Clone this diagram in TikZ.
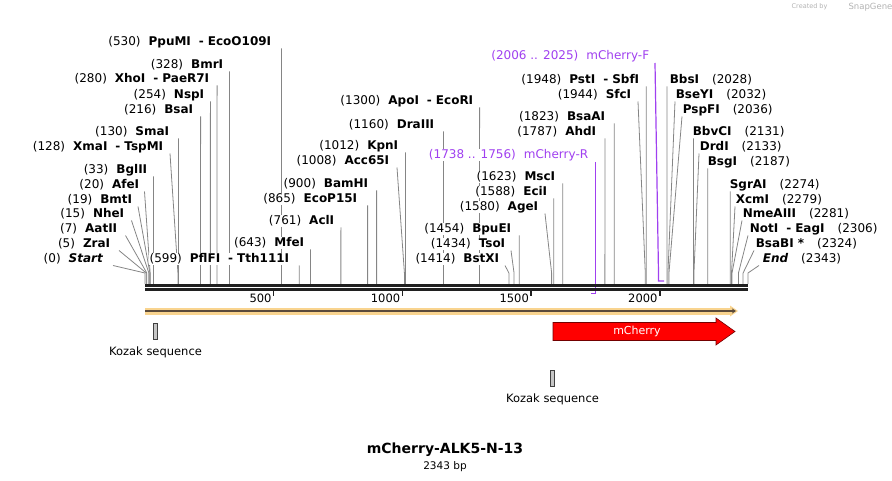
\documentclass[tikz,border=0pt]{standalone}
\usepackage{fontspec}
\setmainfont{DejaVu Sans}
\usetikzlibrary{positioning, arrows.meta, backgrounds}
\definecolor{cutGray}{HTML}{858585}
\definecolor{primerPurple}{HTML}{A040F0}
\definecolor{featOrange}{HTML}{F9D48F}
\definecolor{featLine}{HTML}{5A4A3A}
\definecolor{cherryRed}{HTML}{FF0000}
\definecolor{barBlack}{HTML}{202020}
\newcommand{\orcut}{\hspace{8pt}-\hspace{4pt}}
\newcommand{\bpx}[1]{145+#1*0.25736}

\begin{document}
\begin{tikzpicture}[
      x=1pt, y=-1pt,
      site/.style={font=\fontsize{12}{13}\selectfont, fill=white, inner sep=0.6pt},
      cutline/.style={cutGray, line width=0.8pt},
      primer/.style={primerPurple, line width=1.2pt},
      kozak/.style={draw=black!75, fill=gray!45, line width=0.6pt, minimum width=3.5pt, minimum height=16pt, inner sep=0pt},
      featlabel/.style={font=\fontsize{11.5}{13}\selectfont, inner sep=0pt},
      ticklabel/.style={font=\fontsize{11.5}{13}\selectfont, inner sep=0pt, anchor=east},
    ]
    \useasboundingbox (0,0) rectangle (892,481);
    % cut sites left of their line
    \foreach \yc/\xe/\sx/\bp/\num/\nm in {
        42/272/281.4/530/(530)/{PpuMI\orcut EcoO109I},
        65/224/229.4/328/(328)/BmrI,
        79/210/217.1/280/(280)/{XhoI\orcut PaeR7I},
        95/205/210.4/254/(254)/NspI,
        110/194/200.6/216/(216)/BsaI,
        132/170/178.5/130/(130)/SmaI,
        147/164/170/128/(128)/{XmaI\orcut TspMI},
        170/148/153.5/33/(33)/BglII,
        185/140/144.5/20/(20)/AfeI,
        200/133/138/19/(19)/BmtI,
        214/125/131.5/15/(15)/NheI,
        229/118/125.5/7/(7)/AatII,
        244/111/119/5/(5)/ZraI,
        259/104/113/0/(0)/{\textit{Start}},
        259/290/299.2/599/(599)/{PflFI\orcut Tth111I},
        243/305/310.5/643/(643)/MfeI,
        221/335/340.9/761/(761)/AclI,
        199/358/367.6/865/(865)/EcoP15I,
        184/369/376.6/900/(900)/BamHI,
        161/390/397/1008/(1008)/Acc65I,
        146/399/405.4/1012/(1012)/KpnI,
        125/435/443.5/1160/(1160)/DraIII,
        101/474/479.6/1300/(1300)/{ApoI\orcut EcoRI},
        177/556/562.7/1623/(1623)/MscI,
        192/548/553.7/1588/(1588)/EciI,
        207/539/545/1580/(1580)/AgeI,
        229/512/519.2/1454/(1454)/BpuEI,
        244/506/511/1434/(1434)/TsoI,
        259/500/505/1414/(1414)/BstXI,
        80/640/646.3/1948/(1948)/{PstI\orcut SbfI},
        95/632/638/1944/(1944)/SfcI,
        117/606/614.2/1823/(1823)/BsaAI,
        132/597/604.9/1787/(1787)/AhdI} {
      \node[site, anchor=east] (cut\bp) at (\xe,\yc) {\num\hspace{8pt}\textbf{\nm}};
      \coordinate (from\bp) at (\sx,\yc+6.5);
      \coordinate (knee\bp) at ({\bpx{\bp}},273);
      \coordinate (site\bp) at ({\bpx{\bp}},284);
      \begin{scope}[on background layer]
        \draw[cutline] (from\bp) -- (knee\bp) -- (site\bp);
      \end{scope}
    }
    % cut sites right of their line
    \foreach \yc/\xw/\sx/\bp/\nm/\num in {
        80/669/667/2028/BbsI/(2028),
        95/675/675/2032/BseYI/(2032),
        110/682/682/2036/PspFI/(2036),
        132/692/693.4/2131/BbvCI/(2131),
        147/699/699/2133/DrdI/(2133),
        162/707/707.8/2187/BsgI/(2187),
        185/729/730.2/2274/SgrAI/(2274),
        200/735/735/2279/XcmI/(2279),
        214/742/742/2281/NmeAIII/(2281),
        229/749/748/2306/{NotI\orcut EagI}/(2306),
        244/755/754/2324/{BsaBI\hspace{4pt}*}/(2324),
        259/762/759/2343/{\textit{End}}/(2343)} {
      \node[site, anchor=west] (cut\bp) at (\xw,\yc) {\textbf{\nm}\hspace{13pt}\num};
      \coordinate (from\bp) at (\sx,\yc+6.5);
      \coordinate (knee\bp) at ({\bpx{\bp}},273);
      \coordinate (site\bp) at ({\bpx{\bp}},284);
      \begin{scope}[on background layer]
        \draw[cutline] (from\bp) -- (knee\bp) -- (site\bp);
      \end{scope}
    }
    % primers
    \node[site, text=primerPurple, anchor=east] (primR) at (589,155) {(1738 .. 1756)\hspace{8pt}mCherry-R};
    \node[site, text=primerPurple, anchor=east] (primF) at (650,56) {(2006 .. 2025)\hspace{8pt}mCherry-F};
    \coordinate (primRtop) at (595.5,162);
    \coordinate (primRend) at (595.5,293.5);
    \coordinate (primRhook) at (591,293.5);
    \coordinate (primFtop) at (655,63);
    \coordinate (primFknee) at (658.5,273);
    \coordinate (primFend) at (658.5,281);
    \coordinate (primFhook) at (664,281);
    \begin{scope}[on background layer]
      \draw[primer] (primRtop) -- (primRend) -- (primRhook);
      \draw[primer] (primFtop) -- (primFknee) -- (primFend) -- (primFhook);
    \end{scope}
    % sequence bar
    \coordinate (barL) at (145,285.3);
    \coordinate (barR) at (748,285.3);
    \draw[barBlack, line width=2.6pt] (barL) -- (barR);
    \draw[barBlack, line width=2.6pt] ([yshift=-4pt]barL) -- ([yshift=-4pt]barR);
    \foreach \t in {500,1000,1500,2000} {
      \coordinate (tick\t) at ({\bpx{\t}},290.5);
      \draw[barBlack, line width=1.6pt] (tick\t) -- ++(0,6);
      \node[ticklabel] (ticklab\t) at ({\bpx{\t}-2},298) {\t};
    }
    % features
    \fill[featOrange] (145,307.5) rectangle (731,314.5);
    \fill[featOrange] (730,305.5) -- (738,311) -- (730,316.5) -- cycle;
    \draw[featLine, line width=2pt, -{Stealth[length=4pt,width=5pt]}] (145,311) -- (736,311);
    \draw[fill=cherryRed, draw=black!55!red, line width=0.6pt] (553,322.5) -- (716,322.5) -- (716,318) -- (735,331.5) -- (716,345) -- (716,340.5) -- (553,340.5) -- cycle;
    \node[text=white, font=\fontsize{11}{12}\selectfont] (mcherry) at (637,331.5) {mCherry};
    \node[kozak] (koz1) at (155.5,331) {};
    \node[featlabel, below=7pt of koz1] (koz1lab) {Kozak sequence};
    \node[kozak] (koz2) at (552.5,378) {};
    \node[featlabel, below=7pt of koz2] (koz2lab) {Kozak sequence};
    % title
    \node[font=\bfseries\fontsize{14}{16}\selectfont] (title) at (445,450) {mCherry-ALK5-N-13};
    \node[font=\fontsize{10.5}{12}\selectfont, below=1pt of title, inner sep=0pt] (size) {2343 bp};
    \node[font=\fontsize{6.5}{7}\selectfont, text=gray!60, anchor=east] (credit) at (831,7) {Created by};
    \node[font=\fontsize{8.5}{9}\selectfont, text=gray!60, anchor=west] (brand) at (845,7) {SnapGene};
  \end{tikzpicture}
\end{document}
